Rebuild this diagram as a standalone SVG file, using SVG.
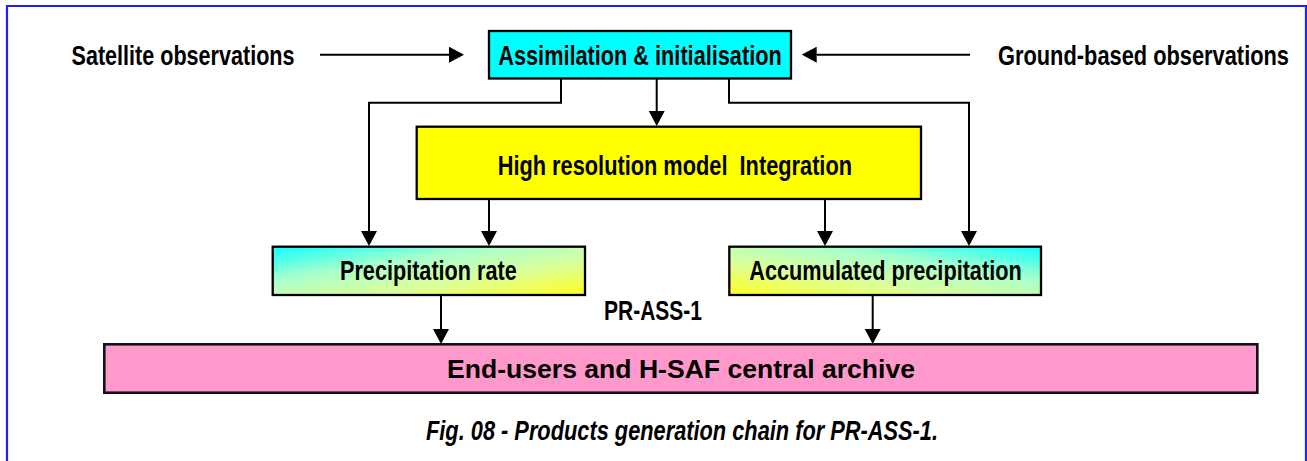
<svg xmlns="http://www.w3.org/2000/svg" width="1307" height="461" viewBox="0 0 1307 461">
  <style>
    .box { stroke: #000; stroke-width: 2.3; }
    .lbl { font-family: "Liberation Sans", Arial, sans-serif; font-size: 27px; font-weight: bold; fill: #000; }
    .big { font-family: "Liberation Sans", Arial, sans-serif; font-size: 26px; font-weight: bold; fill: #000; }
    .cap { font-family: "Liberation Sans", Arial, sans-serif; font-size: 27px; font-weight: bold; font-style: italic; fill: #000; }
    .wire { fill: none; stroke: #000; stroke-width: 2; marker-end: url(#head); }
  </style>
  <defs>
    <marker id="head" markerUnits="userSpaceOnUse" markerWidth="15" markerHeight="16" viewBox="0 0 15 16" refX="0" refY="8" orient="auto">
      <path d="M0,0 L15,8 L0,16 z" fill="#000"/>
    </marker>
    <linearGradient id="gradRate" x1="0" y1="0" x2="1" y2="1">
      <stop offset="0" stop-color="#10ffff"/>
      <stop offset="0.35" stop-color="#a8ffcc"/>
      <stop offset="0.65" stop-color="#daff9c"/>
      <stop offset="1" stop-color="#ffff20"/>
    </linearGradient>
    <linearGradient id="gradAcc" x1="0" y1="1" x2="1" y2="0">
      <stop offset="0" stop-color="#ffff20"/>
      <stop offset="0.35" stop-color="#daff9c"/>
      <stop offset="0.65" stop-color="#a8ffcc"/>
      <stop offset="1" stop-color="#10ffff"/>
    </linearGradient>
  </defs>

  <rect width="1307" height="461" fill="#fff"/>
  <!-- frame -->
  <path d="M7,463 V6 H1306 V463" fill="none" stroke="#1f1fff" stroke-width="2.2"/>

  <!-- free labels (condensed lettering: horizontal scale 0.8) -->
  <g id="satellite">
    <text class="lbl" transform="translate(71.5,64.5) scale(0.8,1)" textLength="278.75" lengthAdjust="spacingAndGlyphs">Satellite observations</text>
  </g>
  <g id="ground">
    <text class="lbl" transform="translate(998,64.5) scale(0.8,1)" textLength="363.75" lengthAdjust="spacingAndGlyphs">Ground-based observations</text>
  </g>

  <!-- connectors -->
  <g id="connectors">
    <path class="wire" d="M320,54.7 H449"/>
    <path class="wire" d="M970,54.7 H816.7"/>
    <path class="wire" d="M561,78 V102.7 H369 V231"/>
    <path class="wire" d="M656.7,78 V111"/>
    <path class="wire" d="M729,78 V102.7 H969 V231"/>
    <path class="wire" d="M489,199 V231"/>
    <path class="wire" d="M825,199 V231"/>
    <path class="wire" d="M441,295 V329"/>
    <path class="wire" d="M872.7,295 V329"/>
  </g>

  <g id="assimilation">
    <rect class="box" x="489" y="31" width="302" height="47.5" fill="#00ffff"/>
    <text class="lbl" transform="translate(498.3,64.5) scale(0.8,1)" textLength="354.25" lengthAdjust="spacingAndGlyphs">Assimilation &amp; initialisation</text>
  </g>

  <g id="model">
    <rect class="box" x="416.7" y="126.7" width="504.3" height="72.3" fill="#ffff00"/>
    <text class="lbl" transform="translate(497.7,175) scale(0.8,1)" textLength="442.9" lengthAdjust="spacingAndGlyphs" xml:space="preserve">High resolution model  Integration</text>
  </g>

  <g id="rate">
    <rect class="box" x="272.7" y="246.7" width="312.3" height="48.3" fill="url(#gradRate)"/>
    <text class="lbl" transform="translate(340,280) scale(0.8,1)" textLength="220.9" lengthAdjust="spacingAndGlyphs">Precipitation rate</text>
  </g>

  <g id="accumulated">
    <rect class="box" x="729.3" y="246.7" width="311.7" height="48.3" fill="url(#gradAcc)"/>
    <text class="lbl" transform="translate(749.3,280) scale(0.8,1)" textLength="340.5" lengthAdjust="spacingAndGlyphs">Accumulated precipitation</text>
  </g>

  <g id="product">
    <text class="lbl" transform="translate(604,320) scale(0.8,1)" textLength="122.5" lengthAdjust="spacingAndGlyphs">PR-ASS-1</text>
  </g>

  <g id="archive">
    <rect x="104.3" y="344.3" width="1153" height="48.4" fill="#ff99cc" stroke="#111" stroke-width="2.6"/>
    <text class="big" x="447" y="378" textLength="468" lengthAdjust="spacingAndGlyphs">End-users and H-SAF central archive</text>
  </g>

  <g id="caption">
    <text class="cap" transform="translate(426,440) scale(0.8,1)" textLength="640" lengthAdjust="spacingAndGlyphs">Fig. 08 - Products generation chain for PR-ASS-1.</text>
  </g>
</svg>
